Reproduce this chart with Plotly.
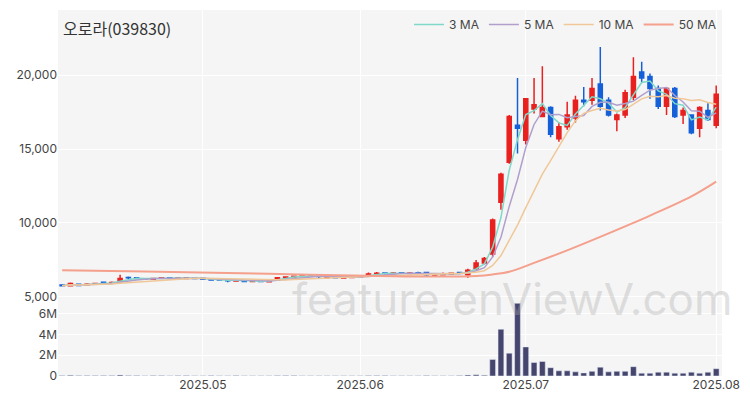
import pandas as pd
import plotly.graph_objects as go
from plotly.subplots import make_subplots

dates = ["2025-04-07","2025-04-08","2025-04-09","2025-04-10","2025-04-11","2025-04-14","2025-04-15","2025-04-16","2025-04-17","2025-04-18",
"2025-04-21","2025-04-22","2025-04-23","2025-04-24","2025-04-25","2025-04-28","2025-04-29","2025-04-30",
"2025-05-02","2025-05-07","2025-05-08","2025-05-09","2025-05-12","2025-05-13","2025-05-14","2025-05-15","2025-05-16",
"2025-05-19","2025-05-20","2025-05-21","2025-05-22","2025-05-23","2025-05-26","2025-05-27","2025-05-28","2025-05-29","2025-05-30",
"2025-06-02","2025-06-04","2025-06-05","2025-06-09","2025-06-10","2025-06-11","2025-06-12","2025-06-13",
"2025-06-16","2025-06-17","2025-06-18","2025-06-19","2025-06-20","2025-06-23","2025-06-24","2025-06-25","2025-06-26","2025-06-27","2025-06-30",
"2025-07-01","2025-07-02","2025-07-03","2025-07-04","2025-07-07","2025-07-08","2025-07-09","2025-07-10","2025-07-11",
"2025-07-14","2025-07-15","2025-07-16","2025-07-17","2025-07-18","2025-07-21","2025-07-22","2025-07-23","2025-07-24","2025-07-25",
"2025-07-28","2025-07-29","2025-07-30","2025-07-31","2025-08-01"]

opens = [5800,5750,5850,5820,5880,6000,5950,6050,6320,6300,6220,6200,6280,6300,6250,6250,6300,6260,6200,6180,6150,6080,6100,6050,6100,6020,6150,6300,6350,6380,6420,6400,6300,6350,6280,6320,6350,6400,6560,6620,6560,6640,6580,6640,6650,6480,
 6500,6550,6650,6500,6900,7300,7900,11400,14100,16600,15600,17700,17200,17800,15700,16500,17100,18300,18300,19400,18300,17000,17300,18500,20200,19900,19100,17900,19100,17300,17300,16400,17600,16600]
closes = [5750,5900,5780,5850,5900,5950,5980,6250,6300,6250,6200,6250,6300,6250,6280,6300,6250,6200,6150,6150,6100,6120,6050,6100,6050,6100,6300,6350,6400,6420,6400,6380,6350,6300,6320,6350,6400,6550,6600,6580,6620,6600,6620,6600,6500,6550,
 6550,6600,6600,6800,7300,7600,10200,13300,17200,16400,18400,18000,17800,16000,16500,17300,18300,18200,19100,17900,17300,17300,18800,19900,19800,19100,17900,19100,17200,17600,16100,17800,17000,18700]
highs = [5850,5980,5880,5920,5960,6050,6050,6500,6380,6330,6280,6300,6350,6340,6320,6350,6340,6300,6250,6230,6200,6180,6150,6150,6150,6160,6350,6400,6450,6470,6460,6440,6380,6400,6350,6380,6450,6650,6680,6650,6680,6680,6680,6700,6680,6600,
 6650,6650,6700,6900,7500,7700,10300,13400,17300,19800,18400,19800,20600,17900,16800,18200,18600,19200,19800,21900,18500,17400,19000,21200,20900,20100,19300,19200,19200,17800,17300,17900,18100,19300]
lows = [5700,5700,5720,5780,5830,5900,5900,6000,6220,6200,6150,6150,6230,6200,6200,6200,6200,6150,6100,6100,6000,6030,6000,6000,6000,5980,6100,6250,6300,6330,6350,6250,6250,6250,6230,6280,6320,6350,6500,6520,6520,6550,6540,6560,6350,6400,
 6450,6500,6550,6300,6800,7200,7700,10900,14000,14700,15300,17400,17200,15800,15500,16300,16800,17900,18000,17600,17200,16200,17100,18300,19500,18400,17700,17300,17100,16700,16000,15800,16900,16400]
volumes_m = [0.05,0.08,0.05,0.04,0.05,0.06,0.04,0.1,0.06,0.04,0.03,0.04,0.04,0.03,0.05,0.04,0.03,0.03,0.04,0.03,0.03,0.04,0.03,0.03,0.03,0.03,0.05,0.04,0.04,0.03,0.03,0.03,0.03,0.03,0.03,0.03,0.03,0.05,0.04,0.04,0.03,0.03,0.03,0.03,0.04,0.03,
 0.03,0.03,0.04,0.1,0.12,0.08,
 1.6,4.5,2.2,7.0,2.8,1.3,1.4,0.8,0.5,0.5,0.4,0.3,0.45,0.85,0.4,0.45,0.45,0.9,0.27,0.27,0.37,0.37,0.27,0.27,0.37,0.27,0.37,0.7]
ma50_idx = [0,10,20,30,40,45,50,52,54,57,61,66,71,76,79]
ma50_val = [6800,6720,6620,6500,6400,6380,6420,6520,6700,7300,8150,9300,10500,11800,12800]

n = len(dates)
idx = list(range(n))
s = pd.Series(closes)
ma3 = s.rolling(3, min_periods=1).mean()
ma5 = s.rolling(5, min_periods=1).mean()
ma10 = s.rolling(10, min_periods=1).mean()

fig = make_subplots(rows=2, cols=1, shared_xaxes=True, row_heights=[0.79, 0.21], vertical_spacing=0.0)
fig.add_trace(go.Candlestick(x=idx, open=opens, high=highs, low=lows, close=closes,
    increasing=dict(line=dict(color="#e8201f", width=1.5), fillcolor="#e8201f"),
    decreasing=dict(line=dict(color="#1560d8", width=1.5), fillcolor="#1560d8"),
    whiskerwidth=0, showlegend=False), row=1, col=1)
for name, y, c in [("3 MA", ma3, "#7fd8c8"), ("5 MA", ma5, "#b09fcc"), ("10 MA", ma10, "#f0c898")]:
    fig.add_trace(go.Scatter(x=idx, y=y, mode="lines", name=name, line=dict(color=c, width=1.5)), row=1, col=1)
fig.add_trace(go.Scatter(x=ma50_idx, y=ma50_val, mode="lines", name="50 MA", line=dict(color="#f4a08c", width=2, shape="spline")), row=1, col=1)
fig.add_trace(go.Bar(x=idx, y=[v*1e6 for v in volumes_m], marker_color="#45456e", showlegend=False, width=0.7), row=2, col=1)

tickpos = [dates.index("2025-05-02") - 1, dates.index("2025-06-02") - 1, dates.index("2025-07-01"), n-1]
ticktext = ["2025.05", "2025.06", "2025.07", "2025.08"]
axfont = dict(family="Inter, Noto Sans CJK KR", size=12, color="#444")
fig.update_xaxes(range=[-0.5, n-0.3], showgrid=True, gridcolor="white", gridwidth=1, tickvals=tickpos, ticktext=ticktext,
                 rangeslider_visible=False, tickfont=axfont, showline=False, zeroline=False, automargin=False)
fig.update_yaxes(row=1, col=1, range=[4850, 24400], tickvals=[5000, 10000, 15000, 20000], tickformat=",",
                 gridcolor="white", tickfont=axfont, zeroline=False, automargin=False)
fig.update_yaxes(row=2, col=1, range=[0, 7.4e6], tickvals=[0, 2e6, 4e6, 6e6], ticktext=["0", "2M", "4M", "6M"],
                 gridcolor="white", tickfont=axfont, zeroline=False, automargin=False)
fig.update_layout(width=750, height=400, margin=dict(l=50, r=36, t=2, b=32),
    paper_bgcolor="white", plot_bgcolor="#f5f5f5", bargap=0.2,
    legend=dict(orientation="h", x=1, xanchor="right", y=1.0, yanchor="top", bgcolor="rgba(0,0,0,0)",
                font=dict(family="Inter, Noto Sans CJK KR", size=12, color="#444")),
    annotations=[
        dict(text="오로라(039830)", x=0.005, y=0.99, xref="paper", yref="paper", xanchor="left", yanchor="top",
             showarrow=False, font=dict(family="Noto Sans CJK KR", size=16, color="#333")),
        dict(text="feature.enViewV.com", x=1.02, y=0.21, xref="paper", yref="paper", xanchor="right", yanchor="middle",
             showarrow=False, font=dict(family="Inter, Noto Sans", size=44, color="rgba(170,170,170,0.35)")),
    ])
fig.write_html("out.html")
